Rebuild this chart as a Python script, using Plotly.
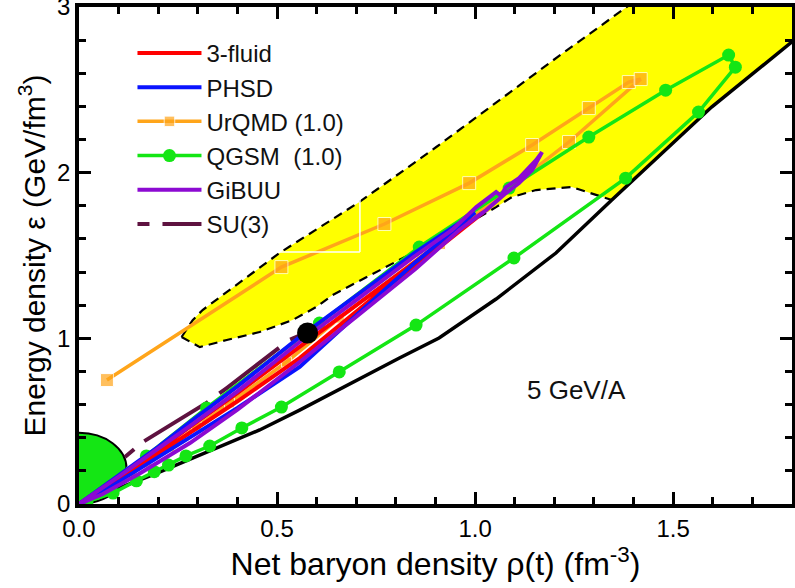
import plotly.graph_objects as go

# ---------------- data ----------------
# lower solid black boundary curve
bound_x = [0.0, 0.20, 0.456, 0.557, 0.809, 0.909, 1.053, 1.204, 1.345, 1.597, 1.80, 1.85]
bound_y = [0.0, 0.19, 0.447, 0.567, 0.881, 1.002, 1.237, 1.515, 1.835, 2.396, 2.79, 2.89]

# yellow region: upper dashed boundary
yup_x = [0.259, 0.287, 0.312, 0.380, 0.506, 0.708, 0.902, 1.212, 1.40]
yup_y = [1.008, 1.110, 1.171, 1.291, 1.515, 1.823, 2.155, 2.705, 3.03]
# yellow region: lower dashed boundary
ylo_x = [0.259, 0.305, 0.373, 0.456, 0.539, 0.599, 0.640, 0.967, 1.053, 1.093, 1.154, 1.244, 1.345]
ylo_y = [1.008, 0.947, 0.990, 1.038, 1.110, 1.189, 1.261, 1.672, 1.792, 1.853, 1.895, 1.913, 1.835]
# far corner of the yellow region (outside the axes, gets clipped)
ycorner_x = [1.85, 1.85]
ycorner_y = [3.05, 2.89]

# 3-fluid
red_x = [0.0, 0.05, 0.10, 0.20, 0.28, 0.40, 0.557, 0.70, 0.85, 0.95, 1.02, 1.00, 0.90, 0.75, 0.557, 0.40, 0.28, 0.15, 0.06, 0.01]
red_y = [0.0, 0.08, 0.16, 0.325, 0.465, 0.67, 0.948, 1.20, 1.47, 1.64, 1.76, 1.72, 1.53, 1.26, 0.881, 0.62, 0.43, 0.22, 0.08, 0.01]

# PHSD
blue_x = [0.0, 0.05, 0.10, 0.20, 0.28, 0.40, 0.557, 0.70, 0.85, 0.95, 1.00, 0.97, 0.85, 0.70, 0.557, 0.40, 0.28, 0.15, 0.06, 0.01]
blue_y = [0.0, 0.085, 0.17, 0.345, 0.495, 0.71, 1.008, 1.26, 1.52, 1.68, 1.76, 1.70, 1.46, 1.14, 0.827, 0.58, 0.40, 0.21, 0.075, 0.01]

# UrQMD (1.0)
urq_x = [0.0705, 0.511, 0.771, 0.985, 1.144, 1.287, 1.388, 1.418, 1.237, 0.909, 0.657, 0.524, 0.380, 0.297, 0.229, 0.171, 0.133, 0.06, 0.01]
urq_y = [0.748, 1.430, 1.690, 1.937, 2.167, 2.390, 2.547, 2.565, 2.185, 1.575, 1.122, 0.857, 0.610, 0.465, 0.344, 0.247, 0.193, 0.08, 0.01]

# QGSM (1.0)
qgsm_x = [0.02, 0.086, 0.145, 0.19, 0.226, 0.27, 0.33, 0.411, 0.511, 0.657, 0.851, 1.098, 1.380, 1.564, 1.657, 1.640, 1.481, 1.287, 1.086, 0.859, 0.607, 0.322, 0.17, 0.07]
qgsm_y = [0.015, 0.066, 0.14, 0.195, 0.235, 0.29, 0.35, 0.459, 0.585, 0.797, 1.080, 1.485, 1.967, 2.366, 2.637, 2.710, 2.498, 2.215, 1.907, 1.551, 1.092, 0.58, 0.29, 0.10]

# GiBUU
gib_x = [0.0, 0.05, 0.10, 0.20, 0.28, 0.40, 0.557, 0.70, 0.85, 0.942, 1.003, 1.053, 1.065, 1.078, 1.111, 1.154, 1.169, 1.144, 1.111, 1.078, 1.028, 0.96, 0.85, 0.70, 0.557, 0.40, 0.28, 0.15, 0.06, 0.01]
gib_y = [0.0, 0.08, 0.165, 0.335, 0.47, 0.68, 0.978, 1.23, 1.50, 1.654, 1.792, 1.883, 1.86, 1.913, 1.967, 2.076, 2.124, 2.016, 1.937, 1.877, 1.774, 1.654, 1.42, 1.13, 0.857, 0.57, 0.368, 0.18, 0.06, 0.01]

# SU(3)
su3_x = [0.116, 0.161, 0.322, 0.373, 0.531, 0.58]
su3_y = [0.284, 0.374, 0.610, 0.700, 0.990, 1.04]

# black dot
dot_x = [0.577]
dot_y = [1.032]

# green half ellipse near the origin
ell_rx = 0.12
ell_ytop = 0.43

label_text = "5 GeV/A"
label_x = 1.257
label_y = 0.688

FONT = "Arial, Liberation Sans, sans-serif"

fig = go.Figure()

# yellow filled area
fill_x = yup_x + ycorner_x + bound_x[::-1][2:5] + ylo_x[::-1]
fill_y = yup_y + ycorner_y + bound_y[::-1][2:5] + ylo_y[::-1]
fig.add_trace(go.Scatter(x=fill_x, y=fill_y, fill="toself", fillcolor="#ffff00",
                         mode="none", showlegend=False, hoverinfo="skip"))
# dashed borders
fig.add_trace(go.Scatter(x=yup_x, y=yup_y, mode="lines", showlegend=False,
                         line=dict(color="black", width=2.2, dash="9px,6px")))
fig.add_trace(go.Scatter(x=ylo_x, y=ylo_y, mode="lines", showlegend=False,
                         line=dict(color="black", width=2.2, dash="9px,6px")))
# solid black curve
fig.add_trace(go.Scatter(x=bound_x, y=bound_y, mode="lines", showlegend=False,
                         line=dict(color="black", width=3.5)))

# trajectories
fig.add_trace(go.Scatter(x=su3_x, y=su3_y, mode="lines", name="SU(3)", legendrank=6,
                         line=dict(color="#5e1240", width=4,
                                   dash="12px,13px,75px,14px,75px,14px")))
urq_sizes = [13] * 10 + [10] * 7 + [0, 0]
fig.add_trace(go.Scatter(x=urq_x, y=urq_y, mode="lines+markers", name="UrQMD (1.0)", legendrank=3,
                         line=dict(color="#ffa51a", width=3.5),
                         marker=dict(symbol="square", size=urq_sizes, color="#ffa51a")))
fig.add_trace(go.Scatter(x=qgsm_x, y=qgsm_y, mode="lines+markers", name="QGSM  (1.0)", legendrank=4,
                         line=dict(color="#14e614", width=3.5),
                         marker=dict(symbol="circle", size=13, color="#14e614")))
fig.add_trace(go.Scatter(x=red_x, y=red_y, mode="lines", name="3-fluid", legendrank=1,
                         line=dict(color="#ff0000", width=4)))
fig.add_trace(go.Scatter(x=blue_x, y=blue_y, mode="lines", name="PHSD", legendrank=2,
                         line=dict(color="#0a14ff", width=4)))
fig.add_trace(go.Scatter(x=gib_x, y=gib_y, mode="lines", name="GiBUU", legendrank=5,
                         line=dict(color="#8c0ad2", width=4)))
fig.add_trace(go.Scatter(x=dot_x, y=dot_y, mode="markers", showlegend=False,
                         marker=dict(color="black", size=21)))

fig.add_annotation(x=label_x, y=label_y, text=label_text, showarrow=False,
                   font=dict(size=26, color="#111111", family=FONT))

# green half ellipse at origin
fig.add_shape(type="circle", xref="x", yref="y", x0=-ell_rx, x1=ell_rx, y0=0, y1=ell_ytop,
              fillcolor="#14e614", line=dict(color="black", width=2), layer="below")

# faint white frame left over from the legend box
fig.add_shape(type="line", xref="paper", yref="paper", x0=0.394, x1=0.394, y0=0.507, y1=0.75,
              line=dict(color="white", width=1.5), layer="above")
fig.add_shape(type="line", xref="paper", yref="paper", x0=0.25, x1=0.394, y0=0.507, y1=0.507,
              line=dict(color="white", width=1.5), layer="above")

axis_common = dict(showline=True, linewidth=3.5, linecolor="black", mirror="allticks",
                   ticks="inside", ticklen=12, tickwidth=3, tickcolor="black",
                   showgrid=False, zeroline=False, ticklabeloverflow="allow",
                   tickfont=dict(size=24, color="black", family=FONT))

fig.update_xaxes(range=[0, 1.8], tick0=0, dtick=0.5, tickformat=".1f",
                 minor=dict(dtick=0.1, ticklen=7, tickwidth=3, ticks="inside", tickcolor="black"),
                 title=dict(text="Net baryon density ρ(t) (fm<sup>-3</sup>)",
                            font=dict(size=32, color="black", family=FONT), standoff=7),
                 **axis_common)
fig.update_yaxes(range=[0, 3], tick0=0, dtick=1,
                 minor=dict(dtick=0.2, ticklen=7, tickwidth=3, ticks="inside", tickcolor="black"),
                 title=dict(text="Energy density ε (GeV/fm<sup>3</sup>)",
                            font=dict(size=30, color="black", family=FONT), standoff=4),
                 **axis_common)

fig.update_layout(
    width=795, height=588,
    margin=dict(l=79, r=3, t=7, b=84, autoexpand=False),
    plot_bgcolor="white", paper_bgcolor="white",
    font=dict(family=FONT, color="black"),
    legend=dict(x=0.075, y=0.952, xanchor="left", yanchor="top",
                bgcolor="rgba(0,0,0,0)", borderwidth=0, itemwidth=64,
                font=dict(size=24, color="#111111", family=FONT)),
)

fig.write_html("out.html")
